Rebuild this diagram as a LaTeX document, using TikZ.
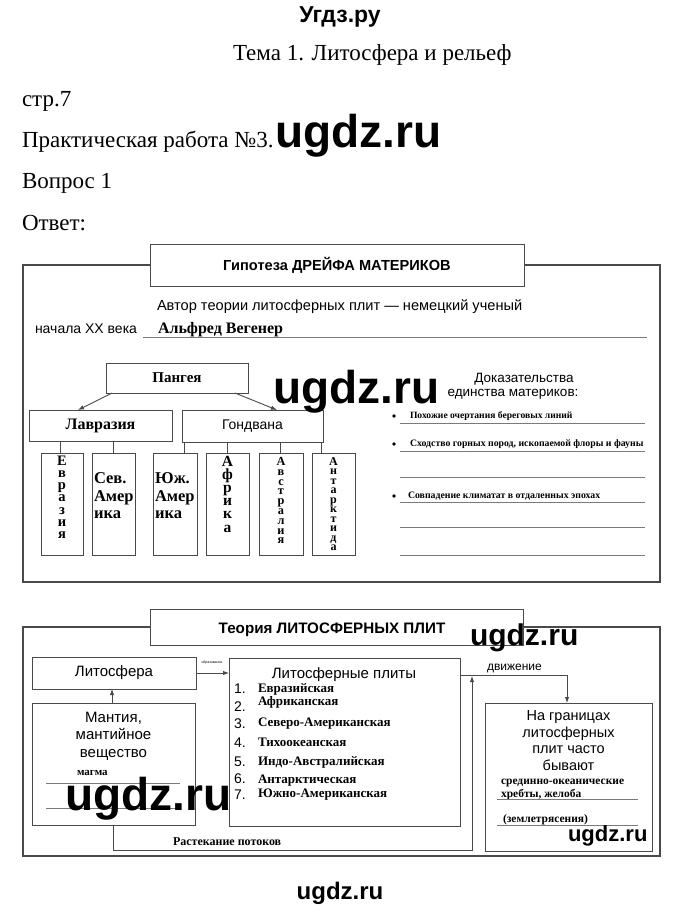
\documentclass[tikz,border=0pt]{standalone}
\usepackage{fontspec}
\setmainfont{Liberation Serif}
\setsansfont{Liberation Sans}
\usetikzlibrary{arrows.meta}
\definecolor{ln}{HTML}{4A4A4A}
\definecolor{ans}{HTML}{7A7A7A}
\newcommand\fzs[2]{\fontsize{#1}{#2}\selectfont\lineskiplimit=-30pt\relax}
\begin{document}
\begin{tikzpicture}[x=1pt,y=-1pt,
  every node/.style={inner sep=0pt, outer sep=0pt},
  tl/.style={anchor=base west},
  tc/.style={anchor=base},
  frame/.style={draw=ln, line width=1.1pt},
  box/.style={draw=ln, line width=1pt, fill=white},
  con/.style={draw=ln, line width=0.9pt},
  arr/.style={con, -{Latex[length=6pt,width=4.5pt]}},
  ansline/.style={draw=ans, line width=0.8pt},
  hdr/.style={font=\fontsize{23}{23}\selectfont, anchor=base west},
  wm/.style={font=\sffamily\bfseries\fontsize{46}{46}\selectfont, anchor=base west},
]
\fill[white] (0,0) rectangle (680,913);
\useasboundingbox (0,0) rectangle (680,913);

% ---------- header ----------
\node[font=\sffamily\bfseries\fontsize{23}{23}\selectfont, tc] (site) at (340,22) {Угдз.ру};
\node[hdr] (topic) at (233,60) {Тема 1. Литосфера и рельеф};
\node[hdr] (page) at (22,106) {стр.7};
\node[hdr] (work) at (22,147) {Практическая работа №3.};
\node[hdr] (quest) at (22,188) {Вопрос 1};
\node[hdr] (answ) at (22,230) {Ответ:};

% ---------- upper section ----------
\draw[frame] (23,265) rectangle (660,582);
\node[box, minimum width=374pt, minimum height=42pt, font=\sffamily\bfseries\fontsize{14.6}{14.6}\selectfont] (t1) at (337,265) {Гипотеза ДРЕЙФА МАТЕРИКОВ};

\node[font=\sffamily\fontsize{14.6}{14.6}\selectfont, tl] (author) at (157,310) {Автор теории литосферных плит — немецкий ученый};
\node[font=\sffamily\fontsize{14}{14}\selectfont, tl] (century) at (35,333) {начала XX века};
\node[font=\bfseries\fontsize{16}{16}\selectfont, tl] (wegener) at (158,333) {Альфред Вегенер};
\draw[ansline] (143,337) -- (647,337);

\node[box, minimum width=142pt, minimum height=30pt, font=\bfseries\fontsize{15}{15}\selectfont] (pang) at (177,378) {Пангея};
\node[box, minimum width=143pt, minimum height=31pt, font=\bfseries\fontsize{16}{16}\selectfont] (lavr) at (100.5,425.5) {Лавразия};
\node[box, minimum width=141pt, minimum height=32pt, font=\sffamily\fontsize{14}{14}\selectfont] (gond) at (252.5,426) {Гондвана};
\draw[arr] ([xshift=6pt]pang.south west) -- ([xshift=-22.5pt]lavr.north);
\draw[arr] ([xshift=-13pt]pang.south east) -- ([xshift=24.5pt]gond.north);

\node[box, minimum width=42pt, minimum height=102pt] (eur) at (62,504) {};
\node[box, minimum width=43pt, minimum height=102pt] (nam) at (113.5,504) {};
\node[box, minimum width=44pt, minimum height=102pt] (sam) at (175,504) {};
\node[box, minimum width=43pt, minimum height=102pt] (afr) at (227.5,504) {};
\node[box, minimum width=44pt, minimum height=102pt] (aus) at (281,504) {};
\node[box, minimum width=43pt, minimum height=102pt] (ant) at (333.5,504) {};

\draw[con] ([xshift=-2pt]eur.north) -- ([xshift=-2pt]eur.north |- lavr.south);
\draw[con] (nam.north) -- (nam.north |- lavr.south);
\draw[con] ([xshift=9pt]sam.north) -- ([xshift=9pt]sam.north |- gond.south);
\draw[con] (afr.north) -- (afr.north |- gond.south);
\draw[con] ([xshift=-1pt]aus.north) -- ([xshift=-1pt]aus.north |- gond.south);
\draw[con] ([xshift=-12.5pt]ant.north) -- ([xshift=-12.5pt]ant.north |- gond.south);

% vertical words, one letter per node
\foreach \ch [count=\i from 0] in {Е,в,р,а,з,и,я}
  \node[font=\bfseries\fontsize{14.5}{14.5}\selectfont, tc] (eurl\i) at (62,{465+\i*12.3}) {\ch};
\foreach \ch [count=\i from 0] in {А,ф,р,и,к,а}
  \node[font=\bfseries\fontsize{15.5}{15.5}\selectfont, tc] (afrl\i) at (227.5,{466+\i*13.2}) {\ch};
\foreach \ch [count=\i from 0] in {А,в,с,т,р,а,л,и,я}
  \node[font=\bfseries\fontsize{12.3}{12.3}\selectfont, tc] (ausl\i) at (281,{465.5+\i*9.8}) {\ch};
\foreach \ch [count=\i from 0] in {А,н,т,а,р,к,т,и,д,а}
  \node[font=\bfseries\fontsize{12}{12}\selectfont, tc] (antl\i) at (333.5,{465.5+\i*9.45}) {\ch};
\node[anchor=north west, align=left, font=\bfseries\fzs{16.5}{17.5}] (namt) at (94,473) {Сев.\\Амер\\ика};
\node[anchor=north west, align=left, font=\bfseries\fzs{16.5}{17.5}] (samt) at (155,473) {Юж.\\Амер\\ика};

\node[font=\sffamily\fontsize{13.5}{13.5}\selectfont, tc] (ev1) at (524,382) {Доказательства};
\node[font=\sffamily\fontsize{13.5}{13.5}\selectfont, tc] (ev2) at (513,396) {единства материков:};

\node[circle, fill=black, minimum size=3.6pt] (b1) at (394,416) {};
\node[circle, fill=black, minimum size=3.6pt] (b2) at (394,444) {};
\node[circle, fill=black, minimum size=3.6pt] (b3) at (394,496) {};
\node[font=\bfseries\fontsize{9.6}{9.6}\selectfont, tl] (e1) at (410,418) {Похожие очертания береговых линий};
\node[font=\bfseries\fontsize{9.8}{9.8}\selectfont, tl] (e2) at (410,446) {Сходство горных пород, ископаемой флоры и фауны};
\node[font=\bfseries\fontsize{9.8}{9.8}\selectfont, tl] (e3) at (408,498) {Совпадение климатат в отдаленных эпохах};
\foreach \yy in {423,451,477,502,527,555}{\draw[ansline] (400,\yy) -- (645,\yy);}

% ---------- lower section ----------
\draw[frame] (23,627) rectangle (660,856);
\node[box, minimum width=373pt, minimum height=36pt] (t2) at (336.5,627) {};
\node[font=\sffamily\bfseries\fontsize{15.2}{15.2}\selectfont, tc] (t2t) at (332,633) {Теория ЛИТОСФЕРНЫХ ПЛИТ};

\node[box, minimum width=164pt, minimum height=32pt, font=\sffamily\fontsize{15}{15}\selectfont] (litho) at (114,673) {Литосфера};
\node[box, minimum width=163pt, minimum height=122pt] (mantle) at (113.5,764) {};
\node[align=center, anchor=north, font=\sffamily\fzs{15}{17.5}] (mantlet) at (113.5,712) {Мантия,\\мантийное\\вещество};
\node[font=\bfseries\fontsize{11}{11}\selectfont, tl] (magma) at (77,775) {магма};
\draw[ansline] (46,783) -- (180,783);
\draw[ansline] (46,808) -- (180,808);
\draw[arr] ([xshift=-1.5pt]mantle.north) -- ([xshift=-1.5pt]mantle.north |- litho.south);

\node[box, minimum width=231pt, minimum height=168pt] (plates) at (344.5,742) {};
\node[font=\sffamily\fontsize{15}{15}\selectfont, tc] (platest) at (344,678) {Литосферные плиты};
\foreach \n/\yy in {1/693,2/711,3/728,4/747,5/766,6/783,7/799}{
  \node[font=\sffamily\fontsize{14}{14}\selectfont, tl] (num\n) at (234,\yy) {\n.};}
\node[font=\bfseries\fontsize{13}{13}\selectfont, tl] (p1) at (258,692) {Евразийская};
\node[font=\bfseries\fontsize{13}{13}\selectfont, tl] (p2) at (258,705) {Африканская};
\node[font=\bfseries\fontsize{13}{13}\selectfont, tl] (p3) at (258,726) {Северо-Американская};
\node[font=\bfseries\fontsize{13}{13}\selectfont, tl] (p4) at (258,746) {Тихоокеанская};
\node[font=\bfseries\fontsize{13}{13}\selectfont, tl] (p5) at (258,765) {Индо-Австралийская};
\node[font=\bfseries\fontsize{13}{13}\selectfont, tl] (p6) at (258,783) {Антарктическая};
\node[font=\bfseries\fontsize{13}{13}\selectfont, tl] (p7) at (258,797) {Южно-Американская};

\draw[arr] (litho.east) -- (litho.east -| plates.west);
\node[font=\sffamily\fontsize{3.5}{3.5}\selectfont, tc] (obr) at (212,663) {образование};

\node[box, minimum width=167pt, minimum height=148pt] (bound) at (568.5,777) {};
\draw[arr] ([yshift=-17pt]plates.north east) -| ([xshift=-1.5pt]bound.north);
\node[font=\sffamily\fontsize{12}{12}\selectfont, tl] (mov) at (487,670) {движение};
\node[align=center, anchor=north, font=\sffamily\fzs{14.5}{16.5}] (boundt) at (568.5,711) {На границах\\литосферных\\плит часто\\бывают};
\node[font=\bfseries\fontsize{11.5}{11.5}\selectfont, tl] (r1) at (501,784) {срединно-океанические};
\node[font=\bfseries\fontsize{11.5}{11.5}\selectfont, tl] (r2) at (501,797) {хребты, желоба};
\draw[ansline] (497,799) -- (638,799);
\node[font=\bfseries\fontsize{11.5}{11.5}\selectfont, tl] (r3) at (503,822) {(землетрясения)};
\draw[ansline] (497,825) -- (638,825);

\coordinate (loopend) at (472,676);
\draw[arr] (mantle.south) -- ++(0,25) -| (loopend);
\node[font=\bfseries\fontsize{12}{12}\selectfont, tl] (flow) at (173,845) {Растекание потоков};

% ---------- watermarks ----------
\node[wm] (wm1) at (275,147) {ugdz.ru};
\node[wm] (wm2) at (273,403) {ugdz.ru};
\node[wm] (wm3) at (65,810) {ugdz.ru};
\node[wm, font=\sffamily\bfseries\fontsize{30}{30}\selectfont] (wm4) at (470,645) {ugdz.ru};
\node[wm, font=\sffamily\bfseries\fontsize{22}{22}\selectfont] (wm5) at (568,841) {ugdz.ru};
\node[font=\sffamily\bfseries\fontsize{24}{24}\selectfont, tc] (wm6) at (340,899) {ugdz.ru};
\end{tikzpicture}
\end{document}
